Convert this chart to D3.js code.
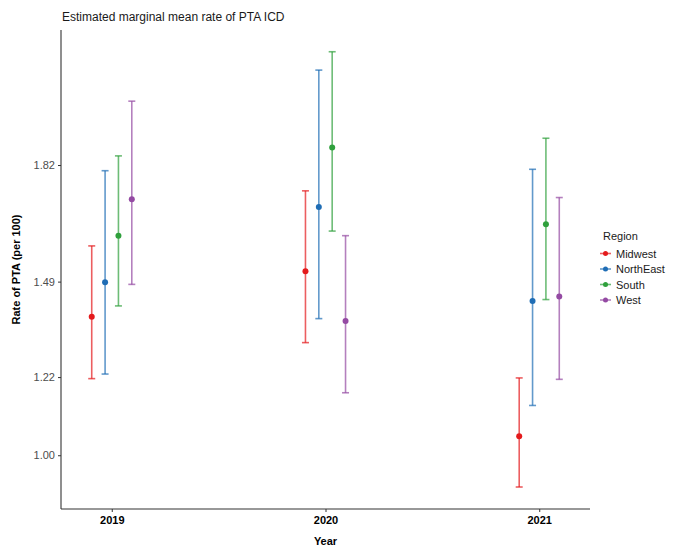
<!DOCTYPE html>
<html>
<head>
<meta charset="utf-8">
<script src="https://cdn.jsdelivr.net/npm/d3@7"></script>
<style>
  body { margin: 0; background: #fff; }
  text { font-family: "Liberation Sans", Arial, sans-serif; }
</style>
</head>
<body>
<script>
// data
var years = [2019, 2020, 2021]
var regions = ["Midwest", "NorthEast", "South", "West"]
var colors = ["#E41A1C", "#1F6DB5", "#2FA03C", "#944AA3"]

// point estimate, lower and upper bound per region, one value per year
var est = {
    Midwest:   [1.392, 1.521, 1.054],
    NorthEast: [1.490, 1.703, 1.437],
    South:     [1.622, 1.872, 1.654],
    West:      [1.725, 1.380, 1.450]
}
var lower = {
    Midwest:   [1.217, 1.319, 0.910],
    NorthEast: [1.230, 1.387, 1.141],
    South:     [1.423, 1.635, 1.441],
    West:      [1.484, 1.177, 1.215]
}
var upper = {
    Midwest:   [1.593, 1.749, 1.219],
    NorthEast: [1.806, 2.091, 1.810],
    South:     [1.848, 2.143, 1.898],
    West:      [2.003, 1.622, 1.730]
}
var yTicks = [1.0, Math.exp(0.2), Math.exp(0.4), Math.exp(0.6)]

var width = 673, height = 548
// (window.top is read-only, so avoid "top" as a name)
var plotLeft = 61, plotRight = 590, plotTop = 30, plotBottom = 509

var svg = d3.select("body").append("svg")
    .attr("width", width)
    .attr("height", height)

var xscale = d3.scaleLinear()
    .domain([2018.7625, 2021.2375])
    .range([plotLeft, plotRight])

var yscale = d3.scaleLinear()
    .domain([0.8477, 2.2046])
    .range([plotBottom, plotTop])

var dodge = d3.scaleBand()
    .domain(regions)
    .range([-0.125, 0.125])

var color = d3.scaleOrdinal().domain(regions).range(colors)

// title
svg.append("text")
    .attr("x", plotLeft + 1)
    .attr("y", 21)
    .attr("font-size", 12)
    .attr("fill", "#1a1a1a")
    .text("Estimated marginal mean rate of PTA ICD")

// error bars and points
regions.forEach(function(r) {
    var rows = years.map(function(y, i) {
        return { x: y + dodge(r) + dodge.bandwidth() / 2, est: est[r][i], lo: lower[r][i], hi: upper[r][i] }
    })
    var g = svg.append("g").attr("stroke", color(r)).attr("fill", color(r))

    g.selectAll(".bar").data(rows).enter().append("line")
        .attr("x1", d => xscale(d.x)).attr("x2", d => xscale(d.x))
        .attr("y1", d => yscale(d.lo)).attr("y2", d => yscale(d.hi))
        .attr("stroke-width", 1.6)
        .attr("stroke-opacity", 0.7)

    ;["lo", "hi"].forEach(function(k) {
        g.selectAll(".cap" + k).data(rows).enter().append("line")
            .attr("x1", d => xscale(d.x) - 3.5).attr("x2", d => xscale(d.x) + 3.5)
            .attr("y1", d => yscale(d[k])).attr("y2", d => yscale(d[k]))
            .attr("stroke-width", 1.6)
            .attr("stroke-opacity", 0.7)
    })

    g.selectAll("circle").data(rows).enter().append("circle")
        .attr("cx", d => xscale(d.x))
        .attr("cy", d => yscale(d.est))
        .attr("r", 3)
        .attr("stroke", "none")
})

// axes
var yAxis = d3.axisLeft(yscale)
    .tickValues(yTicks)
    .tickFormat(d3.format(".2f"))
    .tickSize(3)
    .tickPadding(3)

var gy = svg.append("g")
    .attr("transform", "translate(" + plotLeft + ",0)")
    .call(yAxis)
gy.select(".domain").attr("d", "M0," + plotTop + "V" + plotBottom).attr("stroke", "#333").attr("stroke-width", 1.1)
gy.selectAll(".tick line").attr("stroke", "#333")
gy.selectAll(".tick text").attr("font-size", 11).attr("fill", "#4d4d4d").style("font-family", "Liberation Sans, Arial, sans-serif")

var xAxis = d3.axisBottom(xscale)
    .tickValues(years)
    .tickFormat(d3.format("d"))
    .tickSize(3)
    .tickPadding(4)

var gx = svg.append("g")
    .attr("transform", "translate(0," + plotBottom + ")")
    .call(xAxis)
gx.select(".domain").attr("d", "M" + plotLeft + ",0H" + plotRight).attr("stroke", "#333").attr("stroke-width", 1.1)
gx.selectAll(".tick line").attr("stroke", "#333")
gx.selectAll(".tick text").attr("font-size", 11).attr("font-weight", "bold").attr("fill", "#000").style("font-family", "Liberation Sans, Arial, sans-serif")

// axis titles
svg.append("text")
    .attr("x", (plotLeft + plotRight) / 2)
    .attr("y", 545)
    .attr("text-anchor", "middle")
    .attr("font-size", 11)
    .attr("font-weight", "bold")
    .text("Year")

svg.append("text")
    .attr("transform", "translate(20," + (plotTop + plotBottom) / 2 + ") rotate(-90)")
    .attr("text-anchor", "middle")
    .attr("font-size", 11)
    .attr("font-weight", "bold")
    .text("Rate of PTA (per 100)")

// legend
var legend = svg.append("g").attr("transform", "translate(603,0)")
legend.append("text")
    .attr("x", 0).attr("y", 240)
    .attr("font-size", 11)
    .attr("fill", "#1a1a1a")
    .text("Region")

var items = legend.selectAll(".item").data(regions).enter().append("g")
    .attr("transform", (d, i) => "translate(0," + (253.5 + i * 15.5) + ")")
items.append("line")
    .attr("x1", -3).attr("x2", 8)
    .attr("stroke", d => color(d))
    .attr("stroke-width", 1.6)
    .attr("stroke-opacity", 0.7)
items.append("circle")
    .attr("cx", 2.5).attr("r", 2.5)
    .attr("fill", d => color(d))
items.append("text")
    .attr("x", 13).attr("y", 4)
    .attr("font-size", 11)
    .attr("fill", "#1a1a1a")
    .text(d => d)
</script>
</body>
</html>
